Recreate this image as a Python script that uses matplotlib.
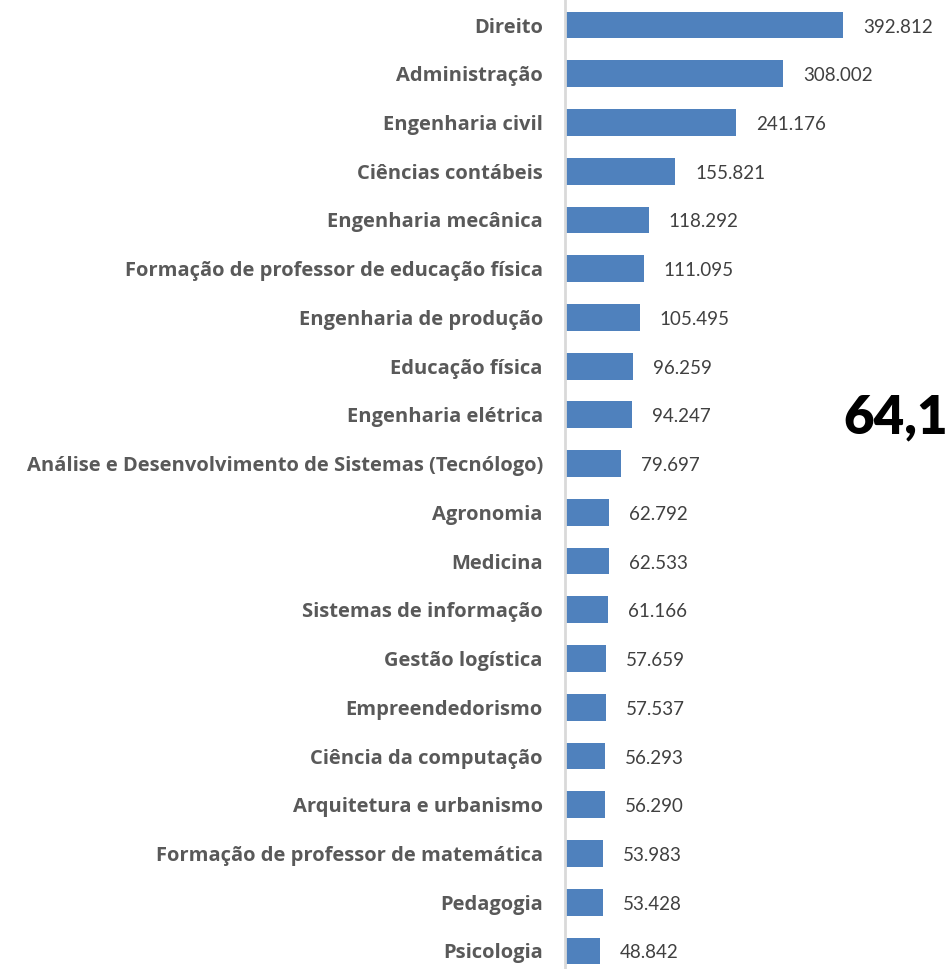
import matplotlib
matplotlib.use("Agg")
import matplotlib.pyplot as plt

categories = [
    "Direito", "Administração", "Engenharia civil", "Ciências contábeis",
    "Engenharia mecânica", "Formação de professor de educação física",
    "Engenharia de produção", "Educação física", "Engenharia elétrica",
    "Análise e Desenvolvimento de Sistemas (Tecnólogo)", "Agronomia",
    "Medicina", "Sistemas de informação", "Gestão logística",
    "Empreendedorismo", "Ciência da computação", "Arquitetura e urbanismo",
    "Formação de professor de matemática", "Pedagogia", "Psicologia",
]
values = [392.812, 308.002, 241.176, 155.821, 118.292, 111.095, 105.495,
          96.259, 94.247, 79.697, 62.792, 62.533, 61.166, 57.659, 57.537,
          56.293, 56.290, 53.983, 53.428, 48.842]
value_labels = ["392.812", "308.002", "241.176", "155.821", "118.292",
                "111.095", "105.495", "96.259", "94.247", "79.697", "62.792",
                "62.533", "61.166", "57.659", "57.537", "56.293", "56.290",
                "53.983", "53.428", "48.842"]
overlay_text = "64,1"

W, H = 948, 969
fig = plt.figure(figsize=(W / 100, H / 100), dpi=100)
ax = fig.add_axes([565 / W, 0, (W - 565) / W, 1])

pos = list(range(len(categories)))
ax.barh(pos, values, height=0.55, color="#4f81bd", zorder=2)
ax.set_xlim(0, 541.2)
ax.set_ylim(19.37, -0.513)

for s in ["top", "right", "bottom"]:
    ax.spines[s].set_visible(False)
ax.spines["left"].set_color("#d9d9d9")
ax.spines["left"].set_linewidth(2)
ax.set_xticks([])
ax.set_yticks(pos)
ax.set_yticklabels(categories, fontsize=14.5, fontweight="bold", color="#595959",
                   family=["Open Sans", "DejaVu Sans"])
ax.tick_params(axis="y", length=0, pad=16)

for p, v, lab in zip(pos, values, value_labels):
    ax.annotate(lab, (v, p), xytext=(20, -2), textcoords="offset pixels",
                va="center", ha="left", fontsize=13.5, color="#404040",
                family=["Lato", "DejaVu Sans"])

fig.text(843 / W, 1 - 433 / H, overlay_text, fontsize=38, fontweight="heavy",
         color="black", family=["Lato", "DejaVu Sans"], ha="left", va="baseline")

fig.savefig("out.png", dpi=100)
